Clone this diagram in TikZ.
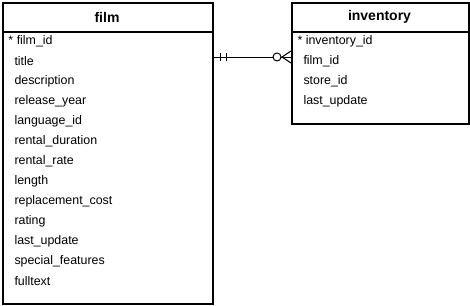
\documentclass[tikz,border=0pt]{standalone}
\usepackage{fontspec}
\setmainfont{Liberation Sans}
\usetikzlibrary{positioning, calc}
\tikzset{
  every picture/.style={font=\fontsize{12.4}{14}\selectfont, line width=1pt},
  entity/.style={draw, line width=2pt, rectangle, anchor=north west, inner sep=0pt},
  head/.style={font=\fontsize{14}{16}\selectfont\bfseries},
  field/.style={anchor=west, inner sep=0pt},
  rel/.style={line width=1pt},
}

\begin{document}
\begin{tikzpicture}[x=1pt, y=-1pt]
\useasboundingbox (0,0) rectangle (470,305);
% film
\node[entity, minimum width=210pt, minimum height=301pt] (film) at (2,2) {};
\draw[line width=2pt] (2,32) -- (212,32);
\node[head] (film-head) at (107,17) {film};
\node[field] (film-0) at (8,41) {* film\_id};
\foreach \f [count=\i] in {title, description, release\_year, language\_id, rental\_duration, rental\_rate, length, replacement\_cost, rating, last\_update, special\_features, fulltext}
  \node[field] (film-\i) at (14,41+20*\i) {\f};
% inventory
\node[entity, minimum width=177pt, minimum height=121pt] (inventory) at (291,2) {};
\draw[line width=2pt] (291,32) -- (468,32);
\node[head] (inventory-head) at (379.5,17) {inventory};
\node[field] (inventory-0) at (297,41) {* inventory\_id};
\foreach \f [count=\i] in {film\_id, store\_id, last\_update}
  \node[field] (inventory-\i) at (303,41+20*\i) {\f};
% relationship
\coordinate (one) at (film.north east |- 0,57);
\coordinate (many) at (inventory.north west |- 0,57);
\draw[rel] (one) -- (many);
\draw[rel] ($(one)+(6,-4)$) -- ++(0,8);
\draw[rel] ($(one)+(12,-4)$) -- ++(0,8);
\draw[rel, fill=white] ($(many)+(-14,0)$) circle (4);
\draw[rel] ($(many)+(0,-6)$) -- ($(many)+(-9,0)$) -- ($(many)+(0,6)$);
\end{tikzpicture}
\end{document}
